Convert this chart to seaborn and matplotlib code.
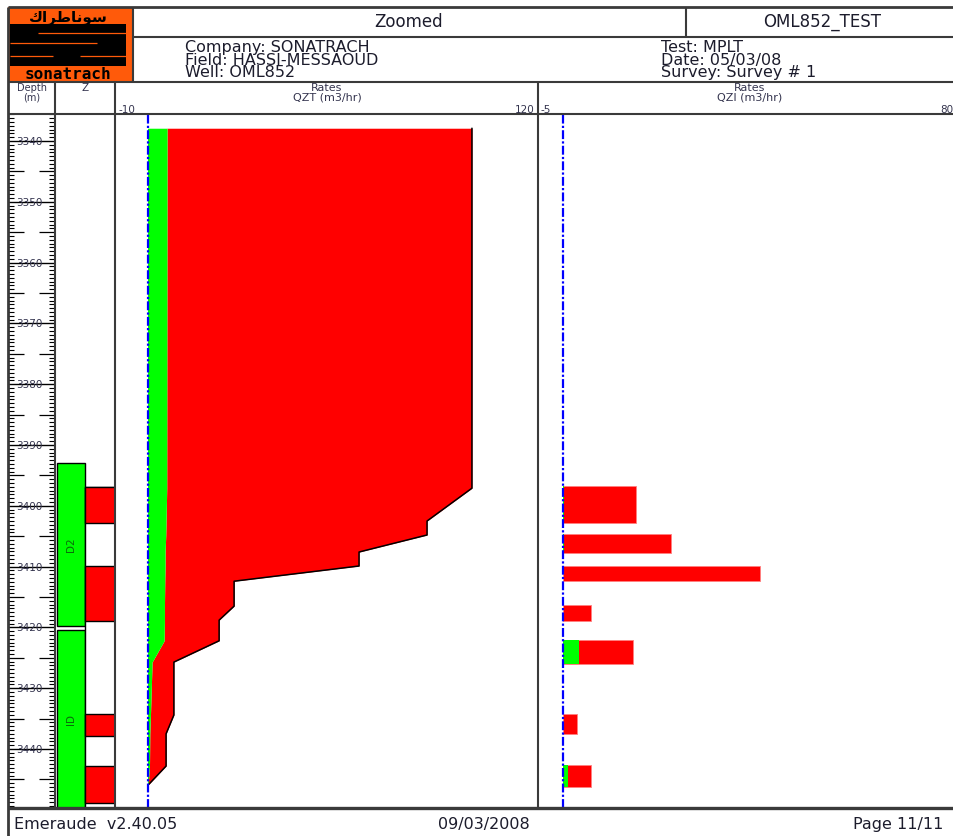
import numpy as np
import matplotlib
matplotlib.use("Agg")
import matplotlib.pyplot as plt
import seaborn as sns
from matplotlib.patches import Rectangle

sns.set_theme(style="white")
plt.rcParams["font.family"] = ["DejaVu Sans"]

W, H, DPI = 954, 837, 100

# ---- depth window (m) ----
depth_top, depth_bot = 3335.56, 3449.7

# ---- zonation ----
zone_names = ["D2", "ID"]
zone_top = [3392.9, 3420.4]
zone_bot = [3419.7, 3449.7]

# ---- perforated intervals ----
perf_top = [3396.9, 3409.9, 3434.2, 3442.8]
perf_bot = [3402.8, 3419.0, 3437.9, 3448.9]

# ---- cumulative rate profile QZT (m3/hr) ----
qzt_depth = [3337.9, 3397.1, 3402.5, 3404.8, 3407.6, 3409.9, 3412.4, 3416.5,
             3418.8, 3422.2, 3425.7, 3434.4, 3437.5, 3442.8, 3445.8]
qzt_total = [99.7, 99.7, 85.9, 85.9, 65.0, 65.0, 26.6, 26.6,
             22.0, 22.0, 8.1, 8.1, 5.7, 5.7, 0.4]
qzt_green = [6.0, 5.9, 5.7, 5.6, 5.4, 5.4, 5.3, 5.2,
             5.2, 5.1, 1.4, 0.9, 0.7, 0.6, 0.2]

# ---- contribution per interval QZI (m3/hr) ----
qzi_top = [3396.7, 3404.6, 3409.9, 3416.3, 3422.1, 3434.2, 3442.6]
qzi_bot = [3402.8, 3407.8, 3412.4, 3418.9, 3426.0, 3437.5, 3446.3]
qzi_total = [14.7, 21.6, 39.5, 5.7, 14.1, 2.9, 5.7]
qzi_green = [0.3, 0.3, 0.0, 0.0, 3.3, 0.0, 1.0]

# ---- header text ----
title_left = "Zoomed"
title_right = "OML852_TEST"
well_info = ["Company: SONATRACH", "Field: HASSI-MESSAOUD", "Well: OML852"]
test_info = ["Test: MPLT", "Date: 05/03/08", "Survey: Survey # 1"]
footer = ["Emeraude  v2.40.05", "09/03/2008", "Page 11/11"]

RED = "#ff0000"
GREEN = "#00ff00"
BLUE = "#0000ff"
INK = "#1c1c2c"
SMALL_INK = "#34344e"
FRAME = "#3a3a3a"
ORANGE = "#ff5a0a"
ZERO_STYLE = (0, (4, 1, 1, 1))


def px_rect(x0, y0, x1, y1):
    return [x0 / W, 1 - y1 / H, (x1 - x0) / W, (y1 - y0) / H]


def blank(ax):
    ax.set_xticks([])
    ax.set_yticks([])
    for s in ax.spines.values():
        s.set_visible(False)
    ax.set_facecolor("none")


fig = plt.figure(figsize=(W / DPI, H / DPI), dpi=DPI)
fig.patch.set_facecolor("white")

Y0, Y1 = 115, 809  # data area in pixels

# ---------- depth track ----------
axd = fig.add_axes(px_rect(8, Y0, 55, Y1))
blank(axd)
axd.set_xlim(0, 47)
axd.set_ylim(depth_bot, depth_top)
minor = np.arange(3335.0, 3450.01, 0.625)
for d in minor:
    if d < depth_top or d > depth_bot:
        continue
    if abs(d % 10) < 1e-6:
        axd.hlines(d, 0, 47, color="black", lw=1.0)
        axd.text(21, d, f"{int(d)}", ha="center", va="center",
                 fontsize=7.5, color=SMALL_INK)
    elif abs(d % 5) < 1e-6:
        axd.hlines(d, 0, 16, color="black", lw=0.9)
        axd.hlines(d, 31, 47, color="black", lw=0.9)
    else:
        axd.hlines(d, 0, 6, color="black", lw=0.8)
        axd.hlines(d, 41, 47, color="black", lw=0.8)

# ---------- zone / perforation track ----------
axz = fig.add_axes(px_rect(55, Y0, 115, Y1))
blank(axz)
axz.set_xlim(0, 60)
axz.set_ylim(depth_bot, depth_top)
for name, t, b in zip(zone_names, zone_top, zone_bot):
    axz.add_patch(Rectangle((2, t), 28, b - t, facecolor=GREEN,
                            edgecolor="black", lw=1.0))
    axz.text(16, (t + b) / 2, name, rotation=90, ha="center", va="center",
             fontsize=7.5, color="#0a6a0a")
axz.add_patch(Rectangle((30, perf_top[0]), 30, depth_bot - perf_top[0],
                        facecolor="white", edgecolor="black", lw=1.0))
for t, b in zip(perf_top, perf_bot):
    axz.add_patch(Rectangle((30, t), 30, b - t, facecolor=RED,
                            edgecolor="black", lw=1.0))

# ---------- QZT track ----------
axq = fig.add_axes(px_rect(115, Y0, 538, Y1))
blank(axq)
axq.fill_betweenx(qzt_depth, qzt_green, qzt_total, color=RED, lw=0)
axq.fill_betweenx(qzt_depth, 0, qzt_green, color=GREEN, lw=0)
sns.lineplot(x=qzt_total, y=qzt_depth, orient="y", sort=False,
             estimator=None, color="black", lw=1.1, ax=axq)
axq.axvline(0, color=BLUE, lw=1.6, ls=ZERO_STYLE, zorder=5)
axq.set_xlim(-10, 120)
axq.set_ylim(depth_bot, depth_top)
axq.set_xlabel("")
axq.set_ylabel("")

# ---------- QZI track ----------
axi = fig.add_axes(px_rect(538, Y0, 962, Y1))
blank(axi)
mid = [(t + b) / 2 for t, b in zip(qzi_top, qzi_bot)]
thick = [b - t for t, b in zip(qzi_top, qzi_bot)]
axi.barh(mid, qzi_total, height=thick, left=0, color=RED,
         edgecolor="#ff8080", lw=0.6)
axi.barh(mid, qzi_green, height=thick, left=0, color=GREEN, lw=0)
axi.axvline(0, color=BLUE, lw=1.6, ls=ZERO_STYLE, zorder=5)
axi.set_xlim(-5, 80)
axi.set_ylim(depth_bot, depth_top)

# ---------- frame, header, logo, footer ----------
ax0 = fig.add_axes([0, 0, 1, 1], zorder=10)
ax0.set_xlim(0, W)
ax0.set_ylim(H, 0)
ax0.axis("off")
ax0.patch.set_alpha(0)

# logo
ax0.add_patch(Rectangle((8, 8), 125, 75, facecolor=ORANGE, edgecolor="none"))
ax0.add_patch(Rectangle((10, 25), 116, 42, facecolor="black", edgecolor="none"))
for xa, xb, yy in [(38, 126, 34), (10, 97, 44), (10, 53, 57), (80, 126, 57)]:
    ax0.plot([xa, xb], [yy, yy], color=ORANGE, lw=0.9, solid_capstyle="butt")
ax0.text(68, 17, "\uFED9\uFE8D\uFEAE\uFEC3\uFE8E\uFEE7\uFEEE\uFEB3",
         ha="center", va="center", fontsize=11, fontweight="bold",
         color="black", family=["DejaVu Sans"])
ax0.text(68, 74, "sonatrach", ha="center", va="center", fontsize=11.5,
         fontweight="bold", color="black", family=["DejaVu Sans Mono"])

# frame lines
lines = [
    ((8, 962), (8, 8), 2.0),
    ((8, 8), (8, 837), 2.0),
    ((133, 962), (38, 38), 1.5),
    ((686, 686), (8, 38), 1.5),
    ((133, 133), (8, 83), 1.5),
    ((8, 962), (83, 83), 1.5),
    ((8, 962), (115, 115), 1.5),
    ((55, 55), (83, Y1), 1.5),
    ((115, 115), (83, Y1), 1.5),
    ((538, 538), (83, Y1), 1.5),
    ((8, 962), (Y1, Y1), 2.4),
]
for xs, ys, lw in lines:
    ax0.plot(xs, ys, color=FRAME, lw=lw, solid_capstyle="butt")

# header text
ax0.text(409, 22, title_left, ha="center", va="center", fontsize=12, color=INK)
ax0.text(822, 22, title_right, ha="center", va="center", fontsize=12, color=INK)
ax0.text(185, 60, "\n".join(well_info), ha="left", va="center",
         fontsize=11.5, color=INK, linespacing=0.78)
ax0.text(661, 60, "\n".join(test_info), ha="left", va="center",
         fontsize=11.5, color=INK, linespacing=0.78)

# track headers
ax0.text(32, 93, "Depth\n(m)", ha="center", va="center", fontsize=7,
         color=SMALL_INK, linespacing=0.9)
ax0.text(85, 88, "Z", ha="center", va="center", fontsize=7.5, color=SMALL_INK)
ax0.text(327, 93, "Rates\nQZT (m3/hr)", ha="center", va="center", fontsize=8,
         color=SMALL_INK, linespacing=0.9)
ax0.text(119, 110, "-10", ha="left", va="center", fontsize=7.5, color=SMALL_INK)
ax0.text(535, 110, "120", ha="right", va="center", fontsize=7.5, color=SMALL_INK)
ax0.text(750, 93, "Rates\nQZI (m3/hr)", ha="center", va="center", fontsize=8,
         color=SMALL_INK, linespacing=0.9)
ax0.text(541, 110, "-5", ha="left", va="center", fontsize=7.5, color=SMALL_INK)
ax0.text(940, 110, "80", ha="left", va="center", fontsize=7.5, color=SMALL_INK)

# footer
ax0.text(14, 825, footer[0], ha="left", va="center", fontsize=11.5, color=INK)
ax0.text(484, 825, footer[1], ha="center", va="center", fontsize=11.5, color=INK)
ax0.text(853, 825, footer[2], ha="left", va="center", fontsize=11.5, color=INK)

fig.savefig("out.png", dpi=DPI, facecolor="white")
